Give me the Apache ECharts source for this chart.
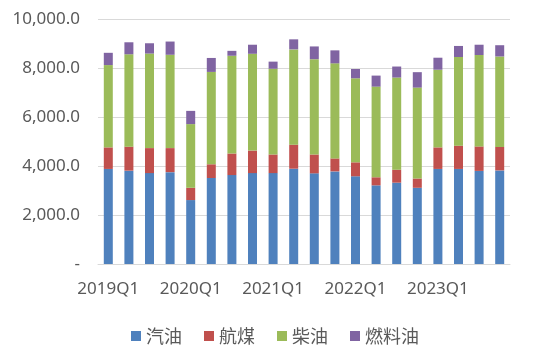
<!DOCTYPE html>
<html><head><meta charset="utf-8">
<script src="https://cdn.jsdelivr.net/npm/echarts@6/dist/echarts.min.js"></script>
<style>html,body{margin:0;padding:0;background:#fff}#c{width:550px;height:362px}</style>
</head><body><div id="c"></div>
<script>
const categories = ['2019Q1','2019Q2','2019Q3','2019Q4','2020Q1','2020Q2','2020Q3','2020Q4','2021Q1','2021Q2','2021Q3','2021Q4','2022Q1','2022Q2','2022Q3','2022Q4','2023Q1','2023Q2','2023Q3','2023Q4'];
const gasoline = [3880,3810,3710,3750,2610,3510,3630,3710,3710,3890,3700,3780,3580,3210,3320,3110,3880,3880,3800,3820];
const jetFuel = [880,980,1020,980,500,560,880,920,760,980,770,530,570,330,530,380,880,950,1000,960];
const diesel = [3360,3770,3860,3810,2600,3770,3990,3950,3500,3890,3890,3880,3430,3700,3760,3710,3170,3620,3730,3690];
const fuelOil = [500,490,420,540,540,570,200,370,290,410,520,530,380,450,450,630,490,450,420,460];
const seriesNames = ['汽油','航煤','柴油','燃料油'];
const colors = ['#4F81BD','#C0504D','#9BBB59','#8064A2'];
const yTicks = [0,2000,4000,6000,8000,10000];

const font = '"Noto Sans","Noto Sans CJK SC",sans-serif';
const chart = echarts.init(document.getElementById('c'), null, {renderer:'canvas'});
const dataArr = [gasoline, jetFuel, diesel, fuelOil];
chart.setOption({
  animation:false,
  color: colors,
  grid:{left:98,right:40,top:19,bottom:98},
  legend:{
    top:322, left:'center', itemWidth:10, itemHeight:10, itemGap:22,
    icon:'rect',
    textStyle:{fontFamily:'"Noto Sans CJK SC",sans-serif',fontSize:18,color:'#595959'},
    data: seriesNames
  },
  xAxis:{
    type:'category', data:categories,
    axisLine:{lineStyle:{color:'#D9D9D9',width:1}},
    axisTick:{show:false},
    axisLabel:{interval:3,fontFamily:font,fontSize:17,color:'#595959',margin:17}
  },
  yAxis:{
    type:'value', min:yTicks[0], max:yTicks[yTicks.length-1], interval:2000,
    axisLine:{show:false}, axisTick:{show:false},
    splitLine:{lineStyle:{color:'#D9D9D9',width:1}},
    axisLabel:{fontFamily:font,fontSize:17,color:'#595959',margin:18,
      formatter:v=> v===0 ? '-' : v.toLocaleString('en-US',{minimumFractionDigits:1,maximumFractionDigits:1})}
  },
  series: seriesNames.map((n,i)=>({
    name:n, type:'bar', stack:'total', barWidth:9, data:dataArr[i]
  }))
});
</script></body></html>
